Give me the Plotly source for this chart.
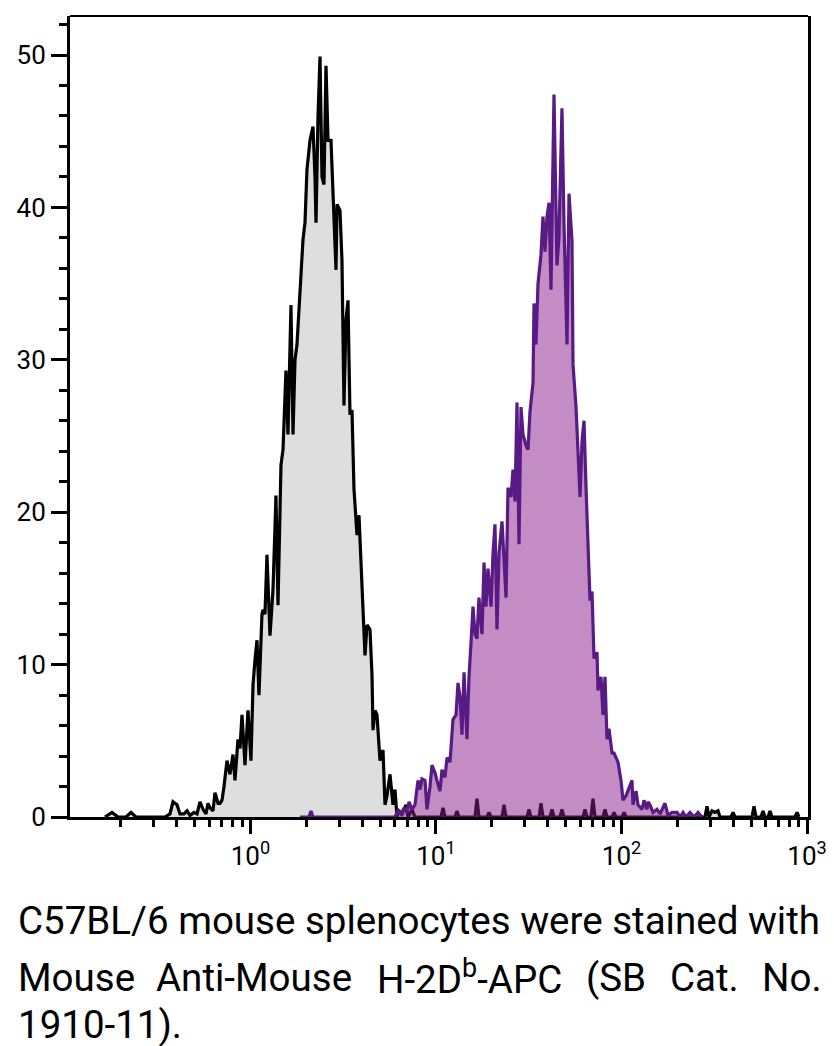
import plotly.graph_objects as go

# ---------------- data ----------------
gray_x = [0.1643, 0.1792, 0.1931, 0.2132, 0.2269, 0.2414, 0.3459, 0.3681, 0.3821, 0.4016,
          0.4169, 0.4381, 0.4547, 0.4719, 0.4960, 0.5149, 0.5344, 0.5546, 0.5756, 0.5901,
          0.6049, 0.6280, 0.6437, 0.6682, 0.6849, 0.7022, 0.7198, 0.7470, 0.7753, 0.8047,
          0.8249, 0.8562, 0.8777, 0.8998, 0.9340, 0.9694, 1.006, 1.032, 1.057, 1.084,
          1.111, 1.153, 1.168, 1.197, 1.227, 1.274, 1.322, 1.372, 1.407, 1.460,
          1.497, 1.553, 1.592, 1.653, 1.695, 1.738, 1.781, 1.849, 1.919, 1.967,
          2.016, 2.093, 2.146, 2.172, 2.227, 2.255, 2.312, 2.370, 2.429, 2.490,
          2.553, 2.617, 2.716, 2.785, 2.890, 2.927, 3.037, 3.113, 3.191, 3.272,
          3.354, 3.439, 3.525, 3.614, 3.751, 3.845, 3.942, 4.042, 4.143, 4.247,
          4.408, 4.519, 4.576, 4.691, 4.808, 4.990, 5.180, 5.310, 5.443, 5.649,
          5.863, 6.012, 6.163, 6.318, 6.558, 6.892, 7.066, 7.424, 7.705,
          10.64, 10.91, 11.18, 12.66, 12.98, 13.30, 16.23, 16.63, 17.05, 18.83,
          19.31, 19.80, 22.69, 23.26, 23.85, 30.94, 31.72, 32.51, 35.92, 36.81,
          37.74, 41.17, 42.20, 43.26, 46.61, 47.76, 48.98, 62.03, 63.58, 65.17,
          68.49, 70.21, 71.96, 79.48, 81.48, 83.52, 88.90, 91.13, 93.42, 100.6,
          103.2, 105.8, 281.9, 289.0, 296.3, 307.5, 319.2, 331.3, 339.6, 389.4,
          399.2, 409.2, 505.2, 518.0, 531.0, 565.0, 579.2, 593.8, 616.3, 631.8,
          647.7, 861.6, 883.3, 905.5]
gray_y = [0, 0.3, 0, 0, 0.3, 0, 0, 0.2, 1.0, 0.8,
          0.2, 0.2, 0.4, 0.1, 0.3, 0.2, 1.0, 0.5, 0.2, 0.9,
          0.6, 0.4, 1.6, 0.9, 0.9, 1.1, 2.0, 3.7, 2.8, 4.1,
          2.4, 5.1, 4.5, 6.7, 3.4, 7.0, 3.7, 8.7, 10.3, 11.6,
          8.0, 13.3, 13.6, 13.3, 17.2, 11.9, 14.9, 21.1, 13.9, 23.1,
          24.1, 29.3, 25.1, 33.6, 25.1, 30.0, 31.0, 34.6, 37.9, 39.0,
          42.5, 44.4, 45.1, 45.3, 42.0, 39.0, 46.0, 49.9, 42.0, 41.5,
          49.3, 44.4, 44.4, 40.5, 35.9, 40.2, 39.8, 36.5, 27.0, 32.6,
          33.9, 26.4, 26.7, 21.5, 18.5, 19.8, 16.2, 13.6, 10.6, 12.6,
          12.3, 9.3, 5.7, 7.0, 6.7, 3.7, 4.4, 0.8, 1.4, 2.8,
          0.8, 1.8, 0, 0.4, 0.2, 0.8, 0, 0.5, 0,
          0, 0.6, 0, 0, 0.4, 0, 0, 1.2, 0, 0,
          0.3, 0, 0, 0.8, 0, 0, 0.5, 0, 0, 0.9,
          0, 0, 0.5, 0, 0, 0.5, 0, 0, 0.5, 0,
          0, 1.2, 0, 0, 0.5, 0, 0, 0.3, 0, 0,
          0.3, 0, 0, 0.7, 0, 0.4, 0.3, 0.4, 0, 0,
          0.3, 0, 0, 0.7, 0, 0, 0.4, 0, 0, 0.4,
          0, 0, 0.3, 0]

purple_x = [1.849, 2.067, 2.119, 2.172, 6.012, 6.241, 6.478, 6.724, 6.979, 7.155,
            7.424, 7.705, 7.998, 8.200, 8.405, 8.723, 8.943, 9.284, 9.515, 9.876,
            10.12, 10.51, 10.77, 11.18, 11.47, 11.90, 12.35, 12.82, 13.14, 13.47,
            13.81, 14.16, 14.69, 15.06, 15.44, 15.83, 16.23, 16.63, 17.05, 17.70,
            18.15, 18.60, 19.07, 19.80, 20.29, 20.80, 21.32, 21.86, 22.69, 23.26,
            23.85, 24.44, 25.37, 26.01, 26.66, 27.33, 28.02, 28.72, 29.44, 30.56,
            31.33, 32.12, 33.34, 33.76, 34.60, 35.47, 36.81, 37.74, 38.69, 39.66,
            40.66, 41.68, 42.72, 43.26, 44.89, 46.02, 47.76, 48.98, 50.84, 52.12,
            54.10, 54.78, 56.86, 58.29, 59.76, 61.26, 62.80, 64.38, 65.99, 67.66,
            69.34, 71.09, 73.79, 74.70, 77.53, 79.48, 81.48, 83.52, 85.62, 88.90,
            91.13, 93.42, 95.74, 99.38, 101.9, 105.8, 108.4, 113.9, 115.3, 119.8,
            122.7, 129.0, 132.2, 137.2, 139.0, 142.4, 147.8, 155.4, 161.3, 171.6,
            178.1, 187.2, 199.2, 206.8, 214.6, 222.7, 234.0, 245.9, 258.5, 271.6]
purple_y = [0, 0, 0.4, 0, 0, 0.4, 0.2, 0.6, 0.3, 1.0,
            0.5, 0.8, 2.4, 1.8, 2.5, 2.4, 0.5, 2.0, 3.4, 2.9,
            2.4, 1.7, 3.1, 2.6, 3.9, 3.6, 6.4, 6.7, 8.8, 7.9,
            5.4, 9.5, 5.1, 9.2, 11.4, 13.8, 12.0, 11.7, 14.4, 12.0,
            16.7, 13.8, 16.3, 13.8, 17.3, 19.2, 12.3, 17.3, 19.4, 16.7,
            14.4, 21.6, 21.0, 22.8, 20.7, 27.2, 17.9, 26.9, 25.1, 24.4,
            24.1, 26.6, 28.5, 33.7, 31.0, 35.0, 36.9, 39.4, 37.1, 39.4,
            40.3, 34.6, 42.1, 47.4, 36.2, 38.1, 46.5, 39.0, 31.0, 40.9,
            37.8, 29.7, 26.9, 24.1, 21.0, 24.7, 26.0, 21.6, 18.5, 14.2,
            14.8, 10.4, 10.8, 8.3, 9.2, 6.7, 9.2, 5.1, 5.8, 4.2,
            4.2, 3.9, 3.6, 2.4, 1.1, 1.4, 1.7, 2.4, 0.8, 1.7,
            0.8, 0.5, 1.1, 0.5, 1.0, 0.8, 0.3, 0.5, 0.2, 0.9,
            0.1, 0.3, 0.3, 0, 0.3, 0, 0.3, 0, 0.3, 0]

y_tick_vals = [0, 10, 20, 30, 40, 50]
y_minor_vals = [2, 4, 6, 8, 12, 14, 16, 18, 22, 24, 26, 28, 32, 34, 36, 38, 42, 44, 46, 48, 52]
x_tick_vals = [1, 10, 100, 1000]
x_tick_text = ["10<sup>0</sup>", "10<sup>1</sup>", "10<sup>2</sup>", "10<sup>3</sup>"]
x_minor_vals = [0.2, 0.3, 0.4, 0.5, 0.6, 0.7, 0.8, 0.9,
                2, 3, 4, 5, 6, 7, 8, 9,
                20, 30, 40, 50, 60, 70, 80, 90,
                200, 300, 400, 500, 600, 700, 800, 900]

caption_line1 = "C57BL/6 mouse splenocytes were stained with"
caption_line2 = ["Mouse", "Anti-Mouse", "H-2D<sup>b</sup>-APC", "(SB", "Cat.", "No."]
caption_line3 = "1910-11)."

# ---------------- styling / layout ----------------
FONT = "Roboto, Liberation Sans, sans-serif"
W, H = 834, 1046
L, R, T, B = 70, 26, 16, 229
PW, PH = W - L - R, H - T - B


def px_x(p):
    return (p - L) / PW


def px_y(p):
    return (H - B - p) / PH


fig = go.Figure()
fig.add_trace(go.Scatter(x=gray_x, y=gray_y, mode="lines",
                         line=dict(color="black", width=3.2),
                         fill="tozeroy", fillcolor="#dedede", hoverinfo="skip"))
fig.add_trace(go.Scatter(x=purple_x, y=purple_y, mode="lines",
                         line=dict(color="#581a84", width=3.2),
                         fill="tozeroy", fillcolor="rgba(135,25,140,0.5)", hoverinfo="skip"))

fig.update_layout(
    width=W, height=H,
    margin=dict(l=L, r=R, t=T, b=B, pad=0, autoexpand=False),
    plot_bgcolor="white", paper_bgcolor="white",
    showlegend=False,
    font=dict(family=FONT, color="black", size=26),
)
fig.update_xaxes(type="log", range=[-0.973, 3.0054], showgrid=False, zeroline=False,
                 automargin=False,
                 showline=True, linecolor="black", linewidth=3, mirror=False,
                 ticks="outside", ticklen=14, tickwidth=3, tickcolor="black",
                 tickmode="array", tickvals=x_tick_vals, ticktext=x_tick_text,
                 tickfont=dict(size=26, family=FONT),
                 minor=dict(ticks="outside", ticklen=7, tickwidth=3, tickcolor="black",
                            tickmode="array", tickvals=x_minor_vals, showgrid=False))
fig.update_yaxes(range=[0, 52.56], showgrid=False, zeroline=False,
                 automargin=False,
                 showline=True, linecolor="black", linewidth=3, mirror=True,
                 ticks="outside", ticklen=16, tickwidth=3, tickcolor="black",
                 tickmode="array", tickvals=y_tick_vals,
                 tickfont=dict(size=26, family=FONT),
                 minor=dict(ticks="outside", ticklen=8, tickwidth=3, tickcolor="black",
                            tickmode="array", tickvals=y_minor_vals, showgrid=False))

# top border of the frame (thinner)
fig.add_shape(type="line", xref="paper", yref="paper", x0=0, x1=1, y0=1, y1=1,
              line=dict(color="black", width=2))

cap_font = dict(family=FONT, size=38.5, color="black")
fig.add_annotation(text=caption_line1, xref="paper", yref="paper",
                   x=px_x(16), y=px_y(920), xanchor="left", yanchor="middle",
                   showarrow=False, font=cap_font)
# justified second line: first word flush left, last flush right, others centred
line2_pos = [16, 254, 469, 616, 704, 824]
line2_anchor = ["left", "center", "center", "center", "center", "right"]
for word, p, anc in zip(caption_line2, line2_pos, line2_anchor):
    fig.add_annotation(text=word, xref="paper", yref="paper",
                       x=px_x(p), y=px_y(977), xanchor=anc,
                       yanchor="middle", showarrow=False, font=cap_font)
fig.add_annotation(text=caption_line3, xref="paper", yref="paper",
                   x=px_x(16), y=px_y(1024), xanchor="left", yanchor="middle",
                   showarrow=False, font=cap_font)

fig.write_html("out.html", config={"displayModeBar": False},
               post_script="document.body.style.margin='0px';document.body.style.overflow='hidden';")
